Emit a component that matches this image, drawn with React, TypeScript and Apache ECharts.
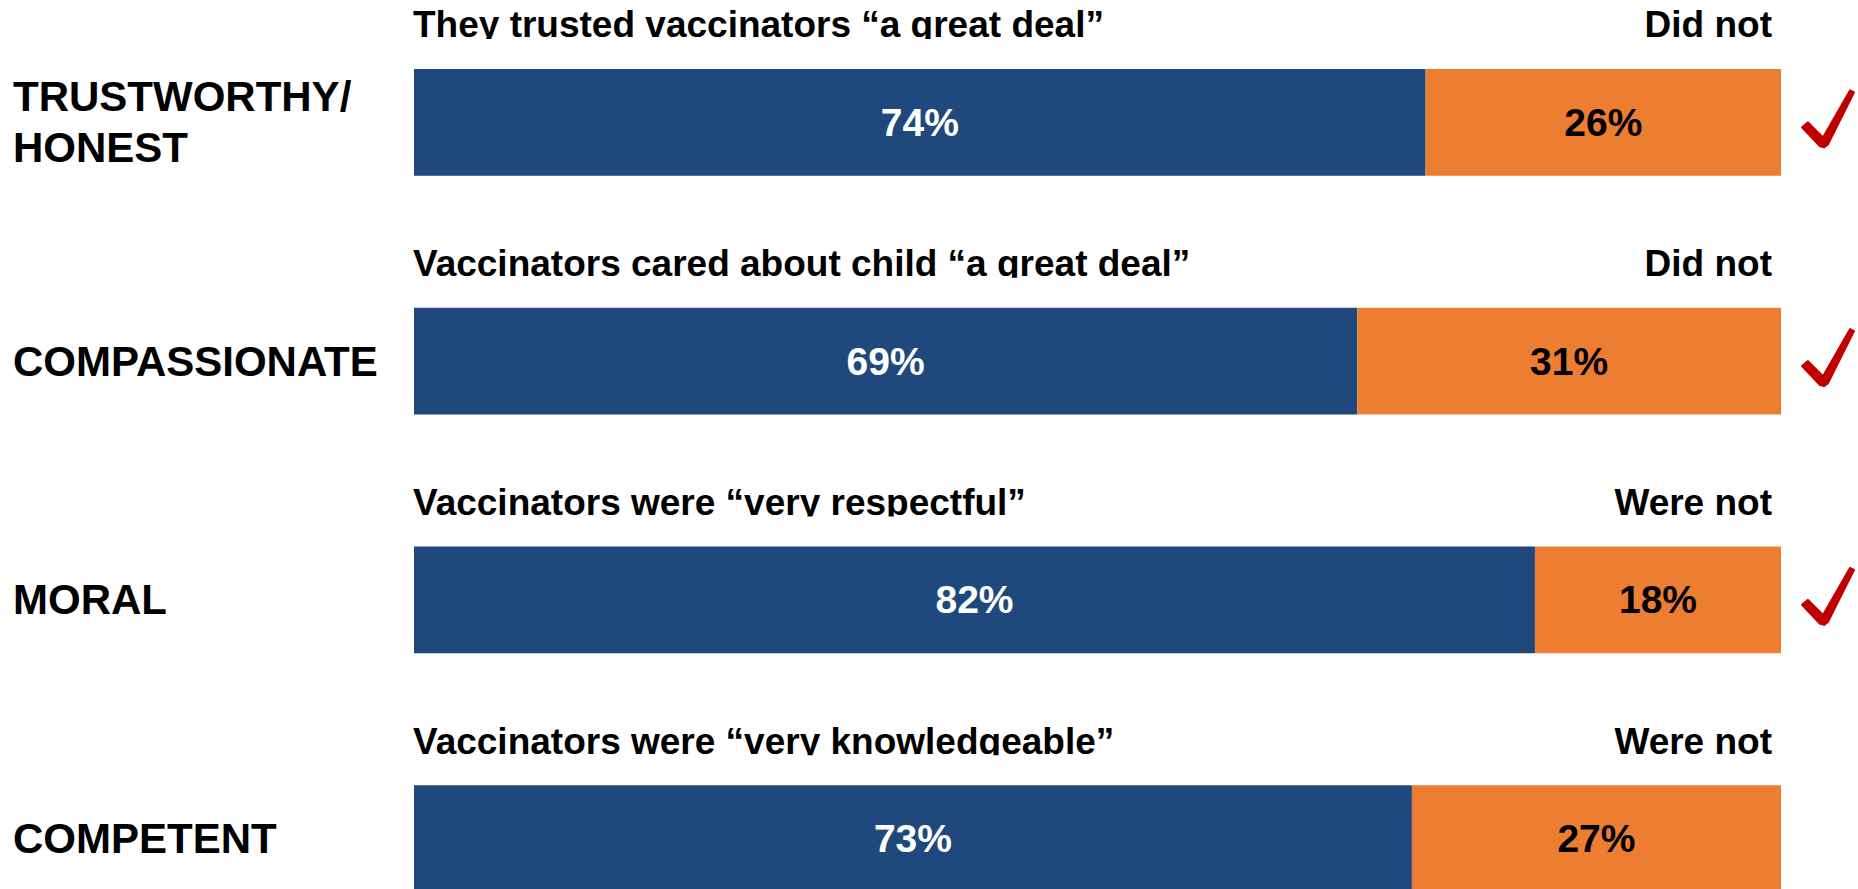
import React, { useEffect, useRef } from "react";
import * as echarts from "echarts";

const CATEGORIES = ["TRUSTWORTHY/\nHONEST", "COMPASSIONATE", "MORAL", "COMPETENT"];
const YES = [74, 69, 82, 73];
const NO = [26, 31, 18, 27];
const YES_LABELS = [
  "They trusted vaccinators “a great deal”",
  "Vaccinators cared about child “a great deal”",
  "Vaccinators were “very respectful”",
  "Vaccinators were “very knowledgeable”",
];
const NO_LABELS = ["Did not", "Did not", "Were not", "Were not"];
const CHECKED = [true, true, true, false];

const FONT = '"Liberation Sans", Arial, Helvetica, sans-serif';
const BLUE = "#1F497D";
const ORANGE = "#ED7D31";
const RED = "#C00000";

export default function App() {
  const ref = useRef<HTMLDivElement>(null);

  useEffect(() => {
    if (!ref.current) return;
    const chart = echarts.init(ref.current, null, { renderer: "svg" });

    const renderItem = (params: any, api: any) => {
      const i = api.value(1);
      const left = api.coord([0, i]);
      const right = api.coord([100, i]);
      const bandH = api.size([0, 1])[1];
      const yc = left[1];
      const x0 = left[0];
      const x1 = right[0];
      const subY = yc - bandH * 0.4085;
      const baseline = subY + 37 * 0.3465;
      const children: any[] = [
        {
          type: "text",
          x: x0 - 1,
          y: subY,
          style: {
            text: YES_LABELS[i],
            fill: "#000",
            font: `bold 37px ${FONT}`,
            textAlign: "left",
            textVerticalAlign: "middle",
            align: "left",
            verticalAlign: "middle",
          },
        },
        {
          type: "rect",
          shape: { x: x0 - 4, y: baseline + 1.3, width: (x1 - x0) * 0.6, height: 13 },
          style: { fill: "#fff" },
        },
        {
          type: "text",
          x: x1 - 9,
          y: subY,
          style: {
            text: NO_LABELS[i],
            fill: "#000",
            font: `bold 37px ${FONT}`,
            textAlign: "right",
            textVerticalAlign: "middle",
            align: "right",
            verticalAlign: "middle",
          },
        },
      ];
      if (CHECKED[i]) {
        const pts = [
          [21, 5],
          [27, 0],
          [42, 15],
          [69, -32],
          [73, -30],
          [47, 22],
          [43, 25],
          [39, 24],
        ].map((p) => [x1 + p[0], yc + p[1]]);
        children.push({
          type: "polygon",
          shape: { points: pts },
          style: { fill: RED, stroke: RED, lineWidth: 2, lineJoin: "round" },
        });
      }
      return { type: "group", children };
    };

    chart.setOption({
      animation: false,
      backgroundColor: "#fff",
      grid: { left: 414, right: 77, top: 3, height: 955 },
      xAxis: {
        type: "value",
        min: 0,
        max: 100,
        show: false,
      },
      yAxis: {
        type: "category",
        data: CATEGORIES,
        inverse: true,
        axisLine: { show: false },
        axisTick: { show: false },
        splitLine: { show: false },
        axisLabel: {
          show: true,
          align: "left",
          margin: 401,
          color: "#000",
          fontFamily: FONT,
          fontWeight: "bold",
          fontSize: 42,
          lineHeight: 51,
          padding: [0, 0, 6, 0],
        },
      },
      series: [
        {
          type: "bar",
          stack: "all",
          data: YES,
          barWidth: "44.8%",
          itemStyle: { color: BLUE },
          label: {
            show: true,
            position: "inside",
            formatter: "{c}%",
            color: "#fff",
            fontFamily: FONT,
            fontWeight: "bold",
            fontSize: 39,
          },
        },
        {
          type: "bar",
          stack: "all",
          data: NO,
          barWidth: "44.8%",
          itemStyle: { color: ORANGE },
          label: {
            show: true,
            position: "inside",
            formatter: "{c}%",
            color: "#000",
            fontFamily: FONT,
            fontWeight: "bold",
            fontSize: 39,
          },
        },
        {
          type: "custom",
          renderItem,
          data: CATEGORIES.map((_, i) => [0, i]),
          encode: { x: 0, y: 1 },
          clip: false,
          silent: true,
          z: 5,
        },
      ],
    });

    return () => chart.dispose();
  }, []);

  return (
    <div style={{ position: "fixed", left: 0, top: 0, width: 1858, height: 889, overflow: "hidden", background: "#fff" }}>
      <div ref={ref} style={{ width: 1858, height: 962 }} />
    </div>
  );
}
